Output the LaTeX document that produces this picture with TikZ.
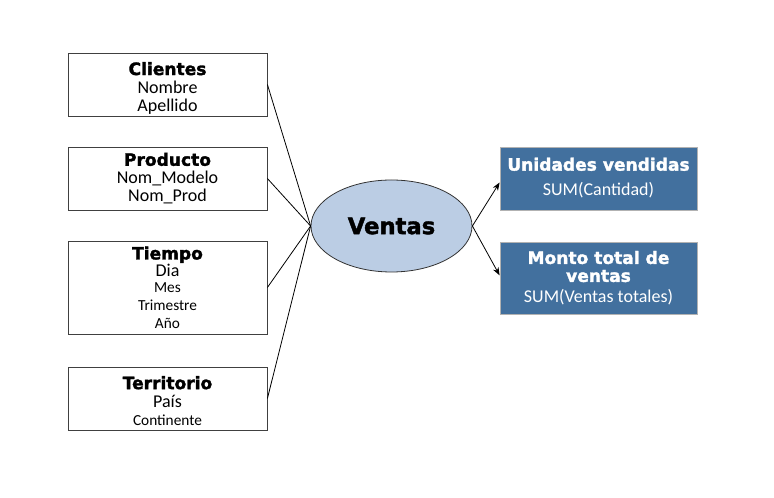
\documentclass[tikz,border=0pt]{standalone}
\usepackage{fontspec}
\setmainfont{Carlito}
\newfontfamily\headfont{DejaVu Sans}[BoldFeatures={FakeBold=1.8}]
\usepackage{tikz}
\usetikzlibrary{shapes.geometric,arrows.meta}
\definecolor{tablaazul}{RGB}{66,112,158}
\definecolor{elipseazul}{RGB}{187,205,228}
\tikzset{
	dimbox/.style={draw=black!75, line width=0.6pt, fill=white, minimum width=149.25pt, align=center, inner sep=0pt, font=\fontsize{13.5}{13.5}\selectfont},
	medbox/.style={draw=black!30, line width=0.6pt, fill=tablaazul, text=white, minimum width=147.75pt, align=center, inner sep=0pt, font=\fontsize{13.5}{13.5}\selectfont},
	flecha/.style={line width=0.6pt, -{Stealth[length=6pt, width=4.5pt]}}
}
\newcommand{\tit}[1]{{\headfont\bfseries\fontsize{12.8}{13.5}\selectfont #1}}
\newcommand{\chico}[1]{{\fontsize{11.5}{11}\selectfont #1}}
\begin{document}
\begin{tikzpicture}[x=0.75pt, y=-0.75pt]
			%%%%% START %%%%%
			
			\useasboundingbox[fill=white] (0, 0) rectangle (774, 498);
			
			\node[dimbox, minimum height=47.25pt] (clientes) at (167.5, 84.5) {\tit{Clientes}\rule{0pt}{15pt}\\Nombre\\Apellido};
			\node[dimbox, minimum height=47.25pt] (producto) at (167.5, 178.5) {\tit{Producto}\\Nom\_Modelo\\Nom\_Prod};
			\node[dimbox, minimum height=69.75pt] (tiempo) at (167.5, 287.5) {\tit{Tiempo}\rule{0pt}{10pt}\\[-1pt]Dia\\[-1pt]\chico{Mes}\\\chico{Trimestre}\\\chico{Año}};
			\node[dimbox, minimum height=47.25pt] (territorio) at (167.5, 398.5) {\tit{Territorio}\rule{0pt}{13pt}\\País\\\chico{Continente}};
			
			\node[ellipse, draw=black!80, line width=0.6pt, fill=elipseazul, minimum width=120.75pt, minimum height=69pt] (ventas) at (391.5, 226) {\headfont\bfseries\fontsize{17}{18}\selectfont Ventas};
			
			\node[medbox, minimum height=47.25pt] (unidades) at (598.5, 178.5) {\raisebox{3pt}{\tit{Unidades vendidas}}\\[5pt]\raisebox{3pt}{SUM(Cantidad)}};
			\node[medbox, minimum height=54pt] (monto) at (598.5, 278) {\tit{Monto total de}\\\tit{ventas}\\[2pt]SUM(Ventas totales)};
			
			\draw[line width=0.6pt] (clientes.east) -- (ventas.west);
			\draw[line width=0.6pt] (producto.east) -- (ventas.west);
			\draw[line width=0.6pt] (tiempo.east) -- (ventas.west);
			\draw[line width=0.6pt] (territorio.east) -- (ventas.west);
			
			\draw[flecha] (ventas.east) -- ([yshift=-3pt]unidades.west);
			\draw[flecha] (ventas.east) -- ([yshift=2pt]monto.west);
			
			%%%%% END %%%%%
\end{tikzpicture}
\end{document}
